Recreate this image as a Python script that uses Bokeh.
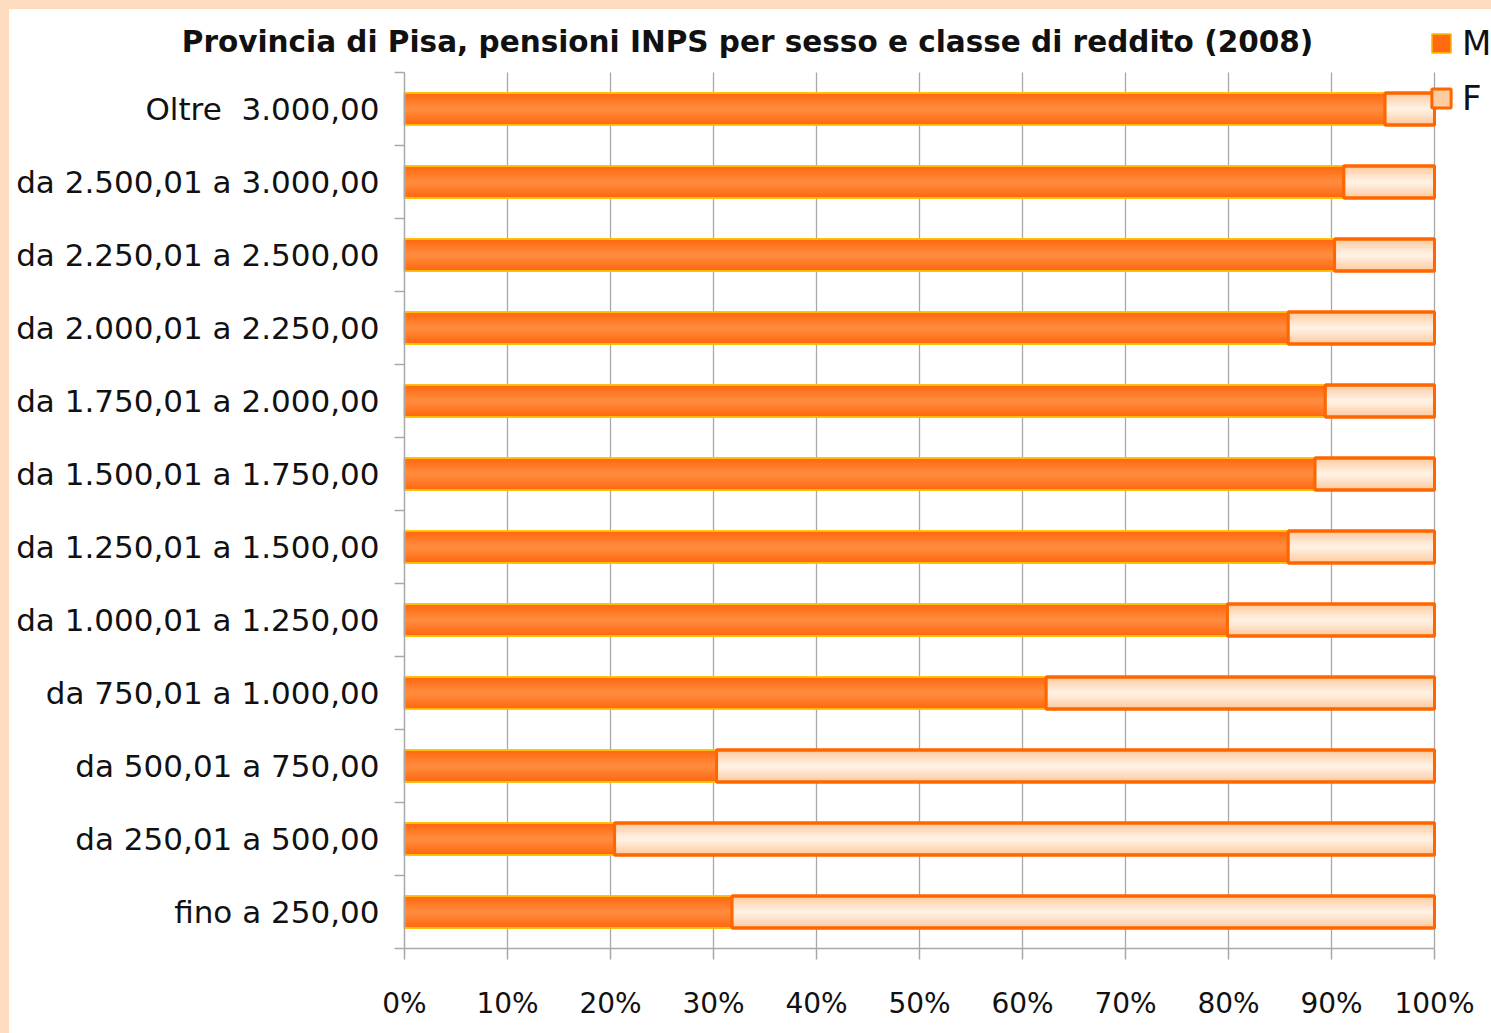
import math
from bokeh.plotting import figure
from bokeh.models import Range1d, FixedTicker, ColumnDataSource, Legend, LegendItem, Label
from bokeh.core.properties import value
from bokeh.embed import file_html
from bokeh.resources import INLINE

# ---------------- data ----------------
categories = [
    "fino a 250,00",
    "da 250,01 a 500,00",
    "da 500,01 a 750,00",
    "da 750,01 a 1.000,00",
    "da 1.000,01 a 1.250,00",
    "da 1.250,01 a 1.500,00",
    "da 1.500,01 a 1.750,00",
    "da 1.750,01 a 2.000,00",
    "da 2.000,01 a 2.250,00",
    "da 2.250,01 a 2.500,00",
    "da 2.500,01 a 3.000,00",
    "Oltre \u00a03.000,00",
]
m_pct = [31.8, 20.4, 30.3, 62.3, 79.9, 85.8, 88.4, 89.4, 85.8, 90.3, 91.2, 95.2]
f_pct = [68.2, 79.6, 69.7, 37.7, 20.1, 14.2, 11.6, 10.6, 14.2, 9.7, 8.8, 4.8]
x_ticks = [0, 10, 20, 30, 40, 50, 60, 70, 80, 90, 100]
x_tick_labels = ["0%", "10%", "20%", "30%", "40%", "50%", "60%", "70%", "80%", "90%", "100%"]
title_text = "Provincia di Pisa, pensioni INPS per sesso e classe di reddito (2008)"
series_names = ["M", "F"]

# ---------------- layout (pixels) ----------------
W, H = 1491, 1033
FRAME_L, FRAME_T, FRAME_B = 9, 12, 948       # drawing frame on the canvas
AXIS_L, AXIS_R, AXIS_T = 404, 1434, 72       # where the value axes are
TITLE_CX, TITLE_BASE = 747, 41

ypos = list(range(1, len(categories) + 1))
y0, y1 = ypos[0] - 0.5, ypos[-1] + 0.5
bounds = [y - 0.5 for y in ypos] + [y1]
px_per_cat = (FRAME_B - AXIS_T) / (y1 - y0)
px_per_pct = (AXIS_R - AXIS_L) / (x_ticks[-1] - x_ticks[0])
x_start = x_ticks[0] - (AXIS_L - FRAME_L) / px_per_pct
x_end = x_ticks[0] + (W - AXIS_L) / px_per_pct
y_top = y0 + (FRAME_B - FRAME_T) / px_per_cat

f_end = [m + f for m, f in zip(m_pct, f_pct)]
src = ColumnDataSource(dict(y=ypos, m=m_pct, f_end=f_end, cat=categories))

LABEL_FONT = "DejaVu Sans"
GRID = "#A8A8A8"
TXT = "#111111"
BAR_H = 0.44

p = figure(
    width=W, height=H, title=None,
    x_range=Range1d(x_start, x_end), y_range=Range1d(y0, y_top),
    output_backend="svg", toolbar_location=None,
    min_border_left=FRAME_L, min_border_right=0,
    min_border_top=FRAME_T, min_border_bottom=H - FRAME_B,
)
p.styles = {"box-shadow": "inset 9px 9px 0 0 #FDDCC0"}
p.outline_line_color = None
p.background_fill_color = "white"
p.border_fill_color = None

# x axis (value axis)
p.xaxis.ticker = FixedTicker(ticks=x_ticks)
p.xaxis.bounds = (x_ticks[0], x_ticks[-1])
p.xaxis.major_label_overrides = {t: l for t, l in zip(x_ticks, x_tick_labels)}
p.xaxis.major_label_text_font = LABEL_FONT
p.xaxis.major_label_text_font_size = "28px"
p.xaxis.major_label_text_color = TXT
p.xaxis.major_label_standoff = 27
p.xaxis.axis_line_color = GRID
p.xaxis.axis_line_width = 1.5
p.xaxis.major_tick_line_color = GRID
p.xaxis.major_tick_line_width = 1.5
p.xaxis.major_tick_out = 11
p.xaxis.major_tick_in = 0
p.xaxis.minor_tick_line_color = None

# category axis drawn at x = 0
p.yaxis.visible = False
p.xgrid.grid_line_color = None
p.ygrid.grid_line_color = None
p.segment(x0=[x_ticks[0]], y0=[y0], x1=[x_ticks[0]], y1=[y1],
          line_color=GRID, line_width=1.5, level="guide")
p.ray(x=[x_ticks[0]] * len(bounds), y=bounds, length=10, length_units="screen",
      angle=math.pi, line_color=GRID, line_width=1.5, level="guide")
p.text(x=x_ticks[0], y="y", text="cat", source=src, x_offset=-25,
       text_align="right", text_baseline="middle",
       text_font=value(LABEL_FONT), text_font_size=value("31px"), text_color=TXT)

# grid lines limited to the plotted band
p.segment(x0=x_ticks[1:], y0=[y0] * (len(x_ticks) - 1), x1=x_ticks[1:], y1=[y1] * (len(x_ticks) - 1),
          line_color=GRID, line_width=1.3, level="underlay")


def mix(c1, c2, t):
    a = [int(c1[i:i + 2], 16) for i in (1, 3, 5)]
    b = [int(c2[i:i + 2], 16) for i in (1, 3, 5)]
    return "#%02x%02x%02x" % tuple(round(a[k] + (b[k] - a[k]) * t) for k in range(3))


N = 7
# M bars (orange gradient)
m_base = p.hbar(y="y", left=0, right="m", height=BAR_H, source=src,
                fill_color="#FF6A10", line_color="#FFC000", line_width=1.5)
for k in range(1, N):
    t = k / (N - 1)
    p.hbar(y="y", left=0, right="m", height=BAR_H * (1 - 0.85 * t), source=src,
           fill_color=mix("#FF6A10", "#FF8A3C", t), line_color=None)
p.hbar(y="y", left=0, right="m", height=BAR_H, source=src,
       fill_color=None, line_color="#FFC000", line_width=1.5)

# F bars (light peach gradient)
f_base = p.hbar(y="y", left="m", right="f_end", height=BAR_H, source=src,
                fill_color="#FDCCA2", line_color="#FF6600", line_width=3)
for k in range(1, N):
    t = k / (N - 1)
    p.hbar(y="y", left="m", right="f_end", height=BAR_H * (1 - 0.85 * t), source=src,
           fill_color=mix("#FDCCA2", "#FFF0E2", t), line_color=None)
p.hbar(y="y", left="m", right="f_end", height=BAR_H, source=src,
       fill_color=None, line_color="#FF6600", line_width=3)

# title (centred on the whole chart)
p.add_layout(Label(
    x=(TITLE_CX - AXIS_L) / px_per_pct, y=y0 + (FRAME_B - TITLE_BASE) / px_per_cat,
    text=title_text, text_align="center", text_baseline="alphabetic",
    text_font=LABEL_FONT, text_font_style="bold", text_font_size="29.5px",
    text_color=TXT,
))

# legend at the top right
lg = Legend(items=[LegendItem(label=series_names[0], renderers=[m_base]),
                   LegendItem(label=series_names[1], renderers=[f_base])],
            location=(1429 - FRAME_L, FRAME_B - 118))
lg.border_line_color = None
lg.background_fill_alpha = 0
lg.padding = 0
lg.margin = 0
lg.spacing = 15
lg.glyph_width = 24
lg.glyph_height = 24
lg.label_height = 40
lg.label_standoff = 9
lg.label_text_font = LABEL_FONT
lg.label_text_font_size = "34px"
lg.label_text_color = TXT
p.add_layout(lg, "center")

open("out.html", "w").write(file_html(p, INLINE))
